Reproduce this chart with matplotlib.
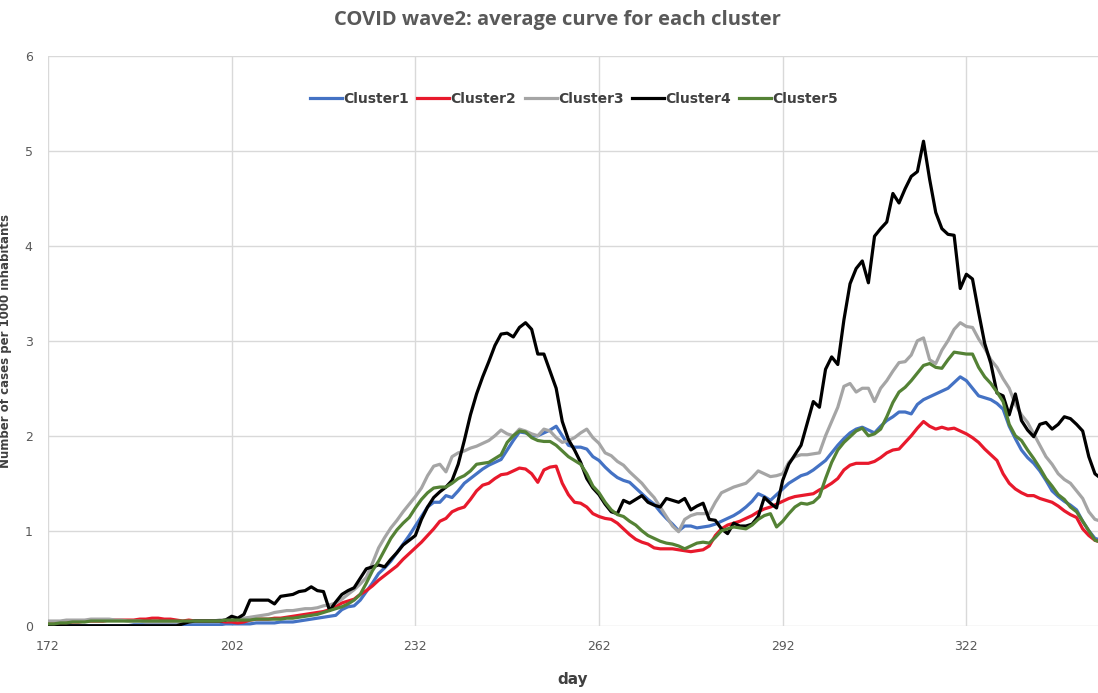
import numpy as np
import matplotlib
matplotlib.use("Agg")
import matplotlib.pyplot as plt

# daily values, first day = 172
cluster1 = [
    0.0, 0.0, 0.0, 0.0, 0.0, 0.0, 0.0, 0.0, 0.0, 0.0,          # 172
    0.0, 0.0, 0.0, 0.0, 0.01, 0.01, 0.01, 0.01, 0.01, 0.01,    # 182
    0.01, 0.01, 0.01, 0.01, 0.01, 0.01, 0.01, 0.01, 0.01, 0.02,  # 192
    0.02, 0.02, 0.02, 0.02, 0.03, 0.03, 0.03, 0.03, 0.04, 0.04,  # 202
    0.04, 0.05, 0.06, 0.07, 0.08, 0.09, 0.10, 0.11, 0.17, 0.20,  # 212
    0.21, 0.27, 0.36, 0.45, 0.55, 0.61, 0.68, 0.77, 0.86, 0.95,  # 222
    1.05, 1.15, 1.25, 1.30, 1.30, 1.37, 1.35, 1.42, 1.50, 1.55,  # 232
    1.60, 1.65, 1.69, 1.72, 1.75, 1.85, 1.95, 2.04, 2.03, 2.00,  # 242
    2.00, 2.03, 2.06, 2.10, 2.00, 1.90, 1.88, 1.88, 1.86, 1.78,  # 252
    1.74, 1.67, 1.61, 1.56, 1.53, 1.51, 1.45, 1.39, 1.33, 1.28,  # 262
    1.20, 1.13, 1.07, 1.00, 1.05, 1.05, 1.03, 1.04, 1.05, 1.07,  # 272
    1.10, 1.13, 1.16, 1.20, 1.25, 1.31, 1.39, 1.36, 1.32, 1.38,  # 282
    1.44, 1.50, 1.54, 1.58, 1.60, 1.64, 1.69, 1.74, 1.82, 1.90,  # 292
    1.97, 2.03, 2.07, 2.09, 2.06, 2.03, 2.10, 2.16, 2.20, 2.25,  # 302
    2.25, 2.23, 2.33, 2.38, 2.41, 2.44, 2.47, 2.50, 2.56, 2.62,  # 312
    2.58, 2.50, 2.42, 2.40, 2.38, 2.34, 2.28, 2.10, 1.97, 1.85,  # 322
    1.77, 1.71, 1.63, 1.53, 1.42, 1.36, 1.31, 1.27, 1.22, 1.10,  # 332
    1.00, 0.92, 0.90,                                            # 342
]
cluster2 = [
    0.02, 0.02, 0.03, 0.03, 0.04, 0.04, 0.05, 0.05, 0.05, 0.05,  # 172
    0.06, 0.06, 0.06, 0.06, 0.06, 0.07, 0.07, 0.08, 0.08, 0.07,  # 182
    0.07, 0.06, 0.05, 0.06, 0.05, 0.05, 0.05, 0.05, 0.05, 0.04,  # 192
    0.04, 0.03, 0.04, 0.06, 0.07, 0.07, 0.07, 0.08, 0.08, 0.09,  # 202
    0.10, 0.11, 0.12, 0.13, 0.14, 0.15, 0.17, 0.20, 0.24, 0.26,  # 212
    0.28, 0.33, 0.37, 0.42, 0.48, 0.53, 0.58, 0.63, 0.70, 0.76,  # 222
    0.82, 0.88, 0.95, 1.02, 1.10, 1.13, 1.20, 1.23, 1.25, 1.33,  # 232
    1.42, 1.48, 1.50, 1.55, 1.59, 1.60, 1.63, 1.66, 1.65, 1.60,  # 242
    1.51, 1.64, 1.67, 1.68, 1.50, 1.38, 1.30, 1.29, 1.25, 1.18,  # 252
    1.15, 1.13, 1.12, 1.08, 1.02, 0.96, 0.91, 0.88, 0.86, 0.82,  # 262
    0.81, 0.81, 0.81, 0.80, 0.79, 0.78, 0.79, 0.80, 0.84, 0.95,  # 272
    1.02, 1.06, 1.08, 1.10, 1.13, 1.16, 1.20, 1.23, 1.25, 1.28,  # 282
    1.31, 1.34, 1.36, 1.37, 1.38, 1.39, 1.43, 1.46, 1.50, 1.55,  # 292
    1.64, 1.69, 1.71, 1.71, 1.71, 1.73, 1.77, 1.82, 1.85, 1.86,  # 302
    1.93, 2.00, 2.08, 2.15, 2.10, 2.07, 2.09, 2.07, 2.08, 2.05,  # 312
    2.02, 1.98, 1.93, 1.86, 1.80, 1.74, 1.60, 1.50, 1.44, 1.40,  # 322
    1.37, 1.37, 1.34, 1.32, 1.30, 1.26, 1.21, 1.17, 1.14, 1.02,  # 332
    0.95, 0.90, 0.88,                                            # 342
]
cluster3 = [
    0.05, 0.05, 0.05, 0.06, 0.06, 0.06, 0.06, 0.07, 0.07, 0.07,  # 172
    0.07, 0.06, 0.06, 0.05, 0.05, 0.05, 0.04, 0.04, 0.04, 0.04,  # 182
    0.04, 0.04, 0.04, 0.04, 0.05, 0.05, 0.05, 0.05, 0.06, 0.06,  # 192
    0.07, 0.07, 0.08, 0.09, 0.10, 0.11, 0.12, 0.14, 0.15, 0.16,  # 202
    0.16, 0.17, 0.18, 0.18, 0.19, 0.21, 0.22, 0.24, 0.28, 0.33,  # 212
    0.38, 0.44, 0.51, 0.66, 0.82, 0.93, 1.03, 1.11, 1.20, 1.28,  # 222
    1.36, 1.45, 1.58, 1.68, 1.70, 1.62, 1.78, 1.82, 1.84, 1.87,  # 232
    1.89, 1.92, 1.95, 2.00, 2.06, 2.02, 2.00, 2.07, 2.05, 2.02,  # 242
    2.00, 2.07, 2.05, 1.98, 1.93, 1.95, 1.98, 2.03, 2.07, 1.98,  # 252
    1.92, 1.82, 1.79, 1.73, 1.69, 1.62, 1.56, 1.50, 1.42, 1.35,  # 262
    1.25, 1.15, 1.05, 0.99, 1.12, 1.16, 1.18, 1.18, 1.18, 1.30,  # 272
    1.40, 1.43, 1.46, 1.48, 1.50, 1.56, 1.63, 1.60, 1.57, 1.58,  # 282
    1.60, 1.72, 1.78, 1.80, 1.80, 1.81, 1.82, 2.00, 2.15, 2.30,  # 292
    2.52, 2.55, 2.46, 2.50, 2.50, 2.36, 2.50, 2.58, 2.68, 2.77,  # 302
    2.78, 2.85, 3.00, 3.03, 2.80, 2.76, 2.90, 3.00, 3.12, 3.19,  # 312
    3.15, 3.14, 3.02, 2.92, 2.80, 2.72, 2.60, 2.50, 2.33, 2.22,  # 322
    2.14, 2.02, 1.90, 1.78, 1.70, 1.60, 1.54, 1.50, 1.42, 1.34,  # 332
    1.20, 1.12, 1.10,                                            # 342
]
cluster4 = [
    0.0, 0.0, 0.0, 0.0, 0.0, 0.0, 0.0, 0.0, 0.0, 0.0,            # 172
    0.0, 0.0, 0.0, 0.0, 0.0, 0.0, 0.0, 0.0, 0.0, 0.0,            # 182
    0.0, 0.0, 0.02, 0.04, 0.05, 0.05, 0.05, 0.05, 0.05, 0.06,    # 192
    0.10, 0.08, 0.12, 0.27, 0.27, 0.27, 0.27, 0.23, 0.31, 0.32,  # 202
    0.33, 0.36, 0.37, 0.41, 0.37, 0.36, 0.16, 0.25, 0.33, 0.37,  # 212
    0.40, 0.50, 0.60, 0.62, 0.64, 0.62, 0.70, 0.77, 0.85, 0.90,  # 222
    0.95, 1.12, 1.25, 1.35, 1.41, 1.46, 1.53, 1.70, 1.95, 2.22,  # 232
    2.44, 2.62, 2.78, 2.95, 3.07, 3.08, 3.04, 3.14, 3.19, 3.12,  # 242
    2.86, 2.86, 2.68, 2.50, 2.15, 1.96, 1.85, 1.72, 1.55, 1.45,  # 252
    1.38, 1.28, 1.20, 1.18, 1.32, 1.29, 1.33, 1.37, 1.30, 1.27,  # 262
    1.25, 1.34, 1.32, 1.30, 1.34, 1.22, 1.26, 1.29, 1.12, 1.11,  # 272
    1.02, 0.97, 1.08, 1.05, 1.05, 1.07, 1.15, 1.35, 1.29, 1.24,  # 282
    1.53, 1.70, 1.80, 1.90, 2.13, 2.36, 2.30, 2.70, 2.83, 2.75,  # 292
    3.22, 3.60, 3.76, 3.84, 3.61, 4.10, 4.18, 4.25, 4.55, 4.45,  # 302
    4.60, 4.73, 4.78, 5.10, 4.70, 4.35, 4.18, 4.12, 4.11, 3.55,  # 312
    3.70, 3.65, 3.30, 2.97, 2.76, 2.45, 2.42, 2.22, 2.44, 2.16,  # 322
    2.06, 1.99, 2.12, 2.14, 2.07, 2.12, 2.20, 2.18, 2.12, 2.05,  # 332
    1.78, 1.60, 1.55,                                            # 342
]
cluster5 = [
    0.02, 0.02, 0.03, 0.03, 0.04, 0.04, 0.04, 0.05, 0.05, 0.05,  # 172
    0.05, 0.05, 0.05, 0.05, 0.05, 0.05, 0.05, 0.05, 0.05, 0.05,  # 182
    0.05, 0.05, 0.05, 0.05, 0.05, 0.05, 0.05, 0.05, 0.05, 0.06,  # 192
    0.06, 0.06, 0.06, 0.06, 0.07, 0.07, 0.07, 0.07, 0.07, 0.08,  # 202
    0.08, 0.09, 0.10, 0.11, 0.12, 0.14, 0.16, 0.18, 0.20, 0.23,  # 212
    0.27, 0.33, 0.45, 0.58, 0.68, 0.80, 0.92, 1.01, 1.08, 1.14,  # 222
    1.24, 1.33, 1.40, 1.45, 1.46, 1.46, 1.50, 1.55, 1.58, 1.63,  # 232
    1.70, 1.71, 1.72, 1.76, 1.80, 1.93, 2.00, 2.05, 2.04, 1.98,  # 242
    1.95, 1.94, 1.94, 1.90, 1.84, 1.78, 1.74, 1.70, 1.60, 1.47,  # 252
    1.40, 1.30, 1.22, 1.17, 1.15, 1.10, 1.06, 1.00, 0.95, 0.92,  # 262
    0.89, 0.87, 0.86, 0.84, 0.81, 0.84, 0.87, 0.88, 0.87, 0.93,  # 272
    1.00, 1.02, 1.04, 1.03, 1.02, 1.06, 1.12, 1.16, 1.18, 1.04,  # 282
    1.10, 1.18, 1.25, 1.29, 1.28, 1.30, 1.36, 1.55, 1.72, 1.85,  # 292
    1.93, 1.99, 2.05, 2.08, 2.00, 2.02, 2.07, 2.20, 2.35, 2.46,  # 302
    2.51, 2.58, 2.66, 2.74, 2.76, 2.72, 2.71, 2.80, 2.88, 2.87,  # 312
    2.86, 2.86, 2.72, 2.62, 2.55, 2.46, 2.36, 2.12, 2.00, 1.95,  # 322
    1.85, 1.76, 1.66, 1.55, 1.47, 1.38, 1.33, 1.25, 1.20, 1.10,  # 332
    1.00, 0.90, 0.88,                                            # 342
]

cluster_names = ["Cluster1", "Cluster2", "Cluster3", "Cluster4", "Cluster5"]
cluster_colors = ["#4472C4", "#E8192C", "#A5A5A5", "#000000", "#548235"]
day_ticks = [172, 202, 232, 262, 292, 322]

fig = plt.figure(figsize=(10.98, 6.93), dpi=100)
ax = fig.add_axes([0.0437, 0.097, 0.9563, 0.8226])

for name, vals, col in zip(cluster_names,
                           [cluster1, cluster2, cluster3, cluster4, cluster5],
                           cluster_colors):
    days = np.arange(172, 172 + len(vals))
    ax.plot(days, vals, color=col, lw=2.3, label=name, solid_joinstyle="round")

ax.set_xlim(172, 343.5)
ax.set_ylim(0, 6)
ax.set_xticks(day_ticks)
ax.set_yticks(range(0, 7))
ax.grid(True, color="#d9d9d9", lw=1)
ax.set_axisbelow(True)
for s in ax.spines.values():
    s.set_visible(False)
ax.tick_params(length=0, colors="#595959", labelsize=9)
ax.tick_params(axis="x", pad=10)
ax.tick_params(axis="y", pad=11)

ax.set_xlabel("day", fontsize=11, fontweight="bold", color="#404040", labelpad=14)
ax.set_ylabel("Number of cases per 1000 inhabitants", fontsize=8.5,
              fontweight="bold", color="#404040", labelpad=9)
fig.text(0.508, 0.971, "COVID wave2: average curve for each cluster",
         ha="center", va="center", fontsize=14.5, fontweight="bold",
         color="#595959", family="Open Sans")

leg = ax.legend(loc="upper center", bbox_to_anchor=(0.501, 0.958), ncol=5,
                frameon=False, handlelength=2.3, handletextpad=0.1,
                columnspacing=0.6, prop={"weight": "bold", "size": 10})
for t in leg.get_texts():
    t.set_color("#404040")

fig.savefig("out.png", dpi=100)
